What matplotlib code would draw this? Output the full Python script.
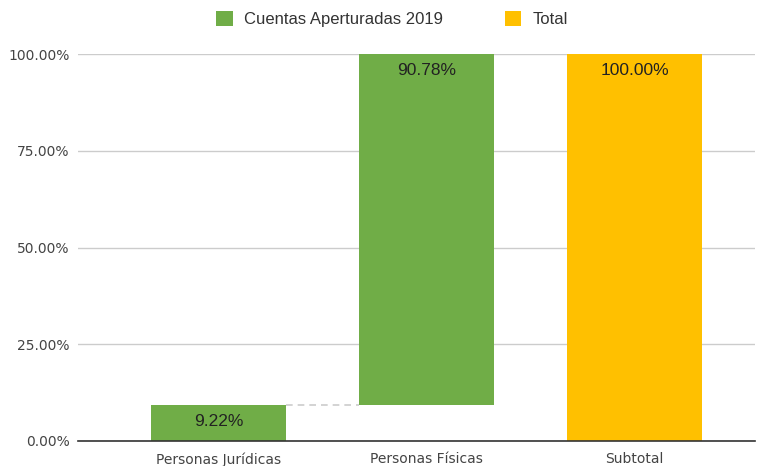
import matplotlib
matplotlib.use("Agg")
import matplotlib.pyplot as plt
from matplotlib.patches import Patch
from matplotlib.ticker import FuncFormatter

categories = ["Personas Jurídicas", "Personas Físicas", "Subtotal"]
increments = [9.22, 90.78]
total = 100.00
labels = ["9.22%", "90.78%", "100.00%"]
series_names = ["Cuentas Aperturadas 2019", "Total"]
yticks = [0, 25, 50, 75, 100]

green = "#70AD47"
yellow = "#FFC000"

fig = plt.figure(figsize=(7.64, 4.66), dpi=100)
ax = fig.add_axes([78/764, 1-441/466, (755-78)/764, (441-54)/466])

bottoms = []
cum = 0
for v in increments:
    bottoms.append(cum)
    cum += v
heights = increments + [total]
bottoms = bottoms + [0]
colors = [green, green, yellow]
w = 0.65
x = list(range(len(categories)))
ax.bar(x, heights, bottom=bottoms, width=w, color=colors, zorder=3)

# connectors
tops = [b + h for b, h in zip(bottoms, heights)]
for i in range(len(categories) - 1):
    ax.plot([x[i] + w/2, x[i+1] - w/2], [tops[i], tops[i]], ls=(0, (4, 3)),
            color="#cccccc", lw=1.2, zorder=2.5)

for i in range(len(categories)):
    ax.text(x[i], tops[i] - 2.2, labels[i], ha="center", va="top",
            fontsize=12.5, color="#222222", family="Liberation Sans", zorder=4)

ax.set_ylim(0, 100)
ax.set_xlim(-140.5/208, 2 + 120.5/208)
ax.set_yticks(yticks)
ax.yaxis.set_major_formatter(FuncFormatter(lambda v, p: f"{v:.2f}%"))
ax.set_xticks(x)
ax.set_xticklabels(categories)
ax.grid(axis="y", color="#cccccc", lw=1, zorder=0)
for s in ["top", "right", "left"]:
    ax.spines[s].set_visible(False)
ax.spines["bottom"].set_color("#333333")
ax.spines["bottom"].set_linewidth(1.2)
ax.spines["bottom"].set_zorder(5)
ax.tick_params(axis="both", length=0, labelsize=10, labelcolor="#444444")
ax.tick_params(axis="y", pad=6)
ax.tick_params(axis="x", pad=8)
for t in ax.get_yticklabels() + ax.get_xticklabels():
    t.set_family("DejaVu Sans")
    t.set_fontsize(10)

handles = [Patch(facecolor=green), Patch(facecolor=yellow)]
fig.legend(handles, series_names, loc="center", bbox_to_anchor=(392/764, 1-19/466),
           ncol=2, frameon=False, handlelength=1.0, handleheight=1.0,
           columnspacing=3.7, handletextpad=0.65,
           prop={"family": "Liberation Sans", "size": 12})
for t in fig.legends[0].get_texts():
    t.set_color("#333333")

fig.savefig("out.png", dpi=100)
